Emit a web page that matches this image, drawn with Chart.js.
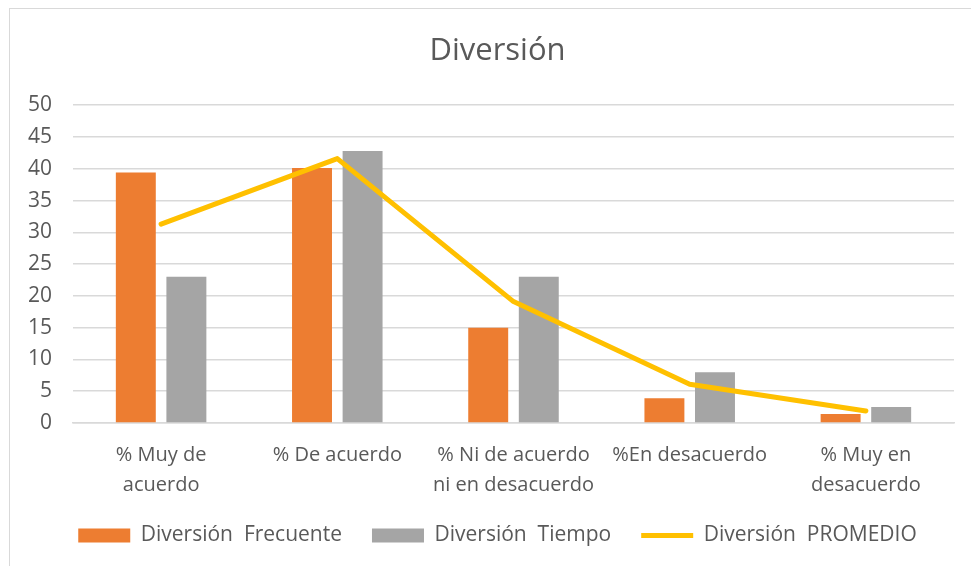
<!DOCTYPE html>
<html lang="es">
  <head>
    <meta charset="UTF-8" />
    <title>Diversión</title>
    <script src="https://cdn.jsdelivr.net/npm/chart.js@4.4.1/dist/chart.umd.min.js"></script>
    <style>
      html, body { margin: 0; padding: 0; background: #fff; overflow: hidden; }
      .wrap { position: relative; width: 971px; height: 566px; }
      .frame {
        position: absolute; left: 9px; top: 8px; right: -2px; bottom: -2px;
        border: 1px solid #d9d9d9; pointer-events: none;
      }
    </style>
  </head>
  <body>
    <div class="wrap">
      <canvas id="chart" width="971" height="566"></canvas>
      <div class="frame"></div>
    </div>
    <script>
      // values
      const categories = [
        ["% Muy de", "acuerdo"],
        ["% De acuerdo"],
        ["% Ni de acuerdo", "ni en desacuerdo"],
        ["%En desacuerdo"],
        ["% Muy en", "desacuerdo"]
      ];
      const frecuente = [39.4, 40.1, 15.0, 3.9, 1.4];
      const tiempo = [23.0, 42.8, 23.0, 8.0, 2.5];
      const promedio = [31.3, 41.6, 19.1, 6.1, 1.9];
      const yTicks = { min: 0, max: 50, step: 5 };

      const textColor = "#595959";
      const gridColor = "#d9d9d9";
      const fontFamily = "'Open Sans'";

      new Chart(document.getElementById("chart").getContext("2d"), {
        type: "bar",
        data: {
          labels: categories,
          datasets: [
            {
              label: "Diversión  Frecuente",
              data: frecuente,
              backgroundColor: "#ed7d31",
              borderWidth: 0,
              pointStyle: "rect",
              categoryPercentage: 0.574,
              barPercentage: 0.79,
              order: 1
            },
            {
              label: "Diversión  Tiempo",
              data: tiempo,
              backgroundColor: "#a5a5a5",
              borderWidth: 0,
              pointStyle: "rect",
              categoryPercentage: 0.574,
              barPercentage: 0.79,
              order: 1
            },
            {
              type: "line",
              label: "Diversión  PROMEDIO",
              data: promedio,
              borderColor: "#ffc000",
              backgroundColor: "#ffc000",
              borderWidth: 5,
              borderJoinStyle: "round",
              borderCapStyle: "round",
              pointRadius: 0,
              pointStyle: "line",
              tension: 0,
              order: 0
            }
          ]
        },
        options: {
          responsive: false,
          animation: false,
          layout: { padding: { left: 24, right: 0, top: 0, bottom: 10 } },
          scales: {
            x: {
              grid: { display: false, drawTicks: false },
              border: { display: true, color: gridColor, width: 1.5 },
              ticks: {
                color: textColor,
                font: { family: fontFamily, size: 20, lineHeight: 1.5 },
                padding: 17,
                maxRotation: 0,
                autoSkip: false
              },
              afterFit: (scale) => { scale.height = 72; }
            },
            y: {
              min: yTicks.min,
              max: yTicks.max,
              grid: { color: gridColor, lineWidth: 1.5, drawTicks: false },
              border: { display: false },
              ticks: {
                stepSize: yTicks.step,
                color: textColor,
                font: { family: fontFamily, size: 21 },
                padding: 21
              },
              afterFit: (scale) => { scale.width = 49; }
            },
            yRight: {
              position: "right",
              grid: { display: false, drawTicks: false },
              border: { display: false },
              ticks: { display: false },
              afterFit: (scale) => { scale.width = 17; }
            }
          },
          plugins: {
            title: {
              display: true,
              text: "Diversión",
              color: textColor,
              font: { family: fontFamily, size: 31, weight: "normal", lineHeight: 1.2 },
              padding: { top: 33, bottom: 35 }
            },
            legend: {
              position: "bottom",
              labels: {
                usePointStyle: true,
                pointStyleWidth: 52,
                boxHeight: 14,
                padding: 30,
                color: textColor,
                font: { family: fontFamily, size: 21 },
                sort: (a, b) => a.datasetIndex - b.datasetIndex
              }
            },
            tooltip: { enabled: false }
          }
        }
      });
    </script>
  </body>
</html>
